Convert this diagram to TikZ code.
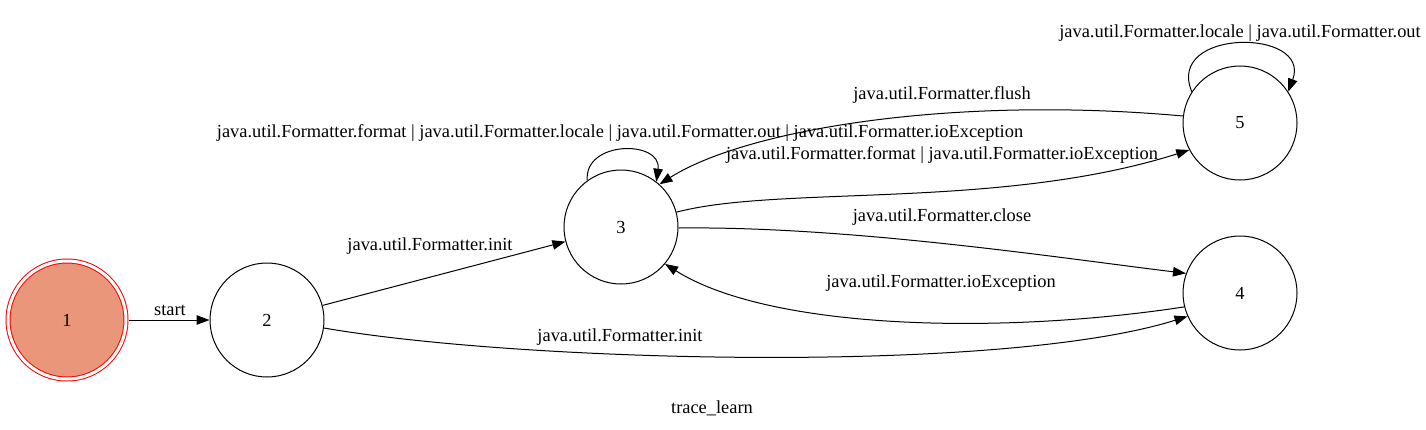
\documentclass[tikz,border=0pt]{standalone}
\usepackage{fontspec}
\setmainfont{Liberation Serif}
\usepackage{xcolor}
\usetikzlibrary{arrows.meta}

\definecolor{startfill}{HTML}{E9967A}

\begin{document}
\begin{tikzpicture}[
    x=1pt, y=-1pt,
    font=\fontsize{18.4}{21}\selectfont,
    state/.style={circle, draw, line width=1pt, minimum size=114pt, inner sep=0pt},
    startstate/.style={circle, draw=red, fill=startfill, double=white, double distance=3pt, line width=1pt, minimum size=118pt, inner sep=0pt, outer sep=2.5pt},
    lbl/.style={inner sep=1pt},
    arrow/.style={-{Triangle[length=13pt, width=9.5pt]}, line width=1pt}
]
\useasboundingbox (0,0) rectangle (1426,429);

\node[startstate] (s1) at (67,320) {1};
\node[state] (s2) at (267,320) {2};
\node[state] (s3) at (621,227) {3};
\node[state] (s4) at (1240,293) {4};
\node[state] (s5) at (1240,123) {5};

\draw[arrow] (s1) -- (s2);
\draw[arrow] (s2) -- (s3);
\draw[arrow] (s2.-8) .. controls (520,362) and (1000,375) .. (s4.204);
\draw[arrow] (s3.126) .. controls (584,140) and (662,140) .. (s3.52);
\draw[arrow] (s3.15) .. controls (780,185) and (1000,210) .. (s5.208);
\draw[arrow] (s3.-1) .. controls (850,226) and (1060,258) .. (s4.160);
\draw[arrow] (s4.194) .. controls (1000,335) and (770,330) .. (s3.-40);
\draw[arrow] (s5.173) .. controls (950,95) and (745,130) .. (s3.48);
\draw[arrow] (s5.147) .. controls (1165,28) and (1312,28) .. (s5.33);

% edge labels
\node[lbl] (l12) at (170,310) {start};
\node[lbl] (l23) at (430,246) {java.util.Formatter.init};
\node[lbl] (l24) at (620,337) {java.util.Formatter.init};
\node[lbl] (l33) at (620,133) {java.util.Formatter.format | java.util.Formatter.locale | java.util.Formatter.out | java.util.Formatter.ioException};
\node[lbl] (l53) at (942,95) {java.util.Formatter.flush};
\node[lbl] (l35) at (942,155) {java.util.Formatter.format | java.util.Formatter.ioException};
\node[lbl] (l34) at (942,217) {java.util.Formatter.close};
\node[lbl] (l43) at (941,283) {java.util.Formatter.ioException};
\node[lbl] (l55) at (1240,33) {java.util.Formatter.locale | java.util.Formatter.out};

\node[lbl] (title) at (712,408) {trace\_learn};
\end{tikzpicture}
\end{document}
